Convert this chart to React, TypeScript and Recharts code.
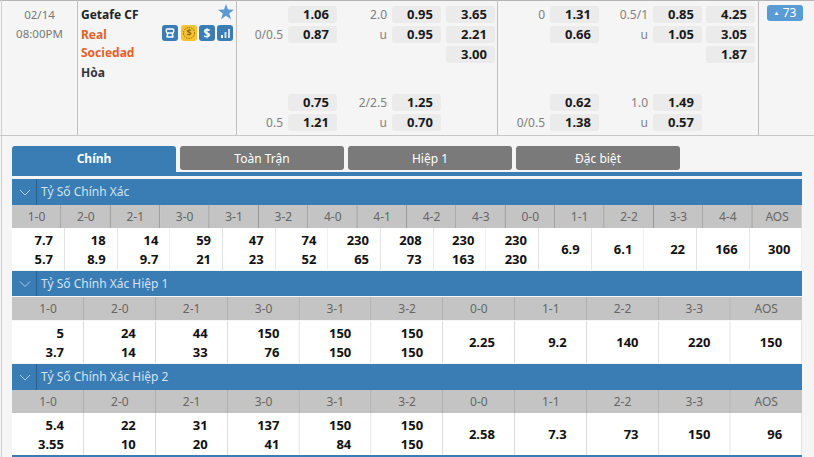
import { BarChart, Bar, XAxis, YAxis, LabelList } from "recharts";

const FONT = "'Noto Sans', sans-serif";
const BLUE = "#3a7db4";

// top panel odds
const ftHdpLines = ["", "0/0.5"];
const ftHdpOdds = [1.06, 0.87];
const ftOuLines = ["2.0", "u"];
const ftOuOdds = [0.95, 0.95];
const ft1x2Odds = [3.65, 2.21, 3.0];
const ftHdpLines2 = ["", "0.5"];
const ftHdpOdds2 = [0.75, 1.21];
const ftOuLines2 = ["2/2.5", "u"];
const ftOuOdds2 = [1.25, 0.7];

const htHdpLines = ["0", ""];
const htHdpOdds = [1.31, 0.66];
const htOuLines = ["0.5/1", "u"];
const htOuOdds = [0.85, 1.05];
const ht1x2Odds = [4.25, 3.05, 1.87];
const htHdpLines2 = ["", "0/0.5"];
const htHdpOdds2 = [0.62, 1.38];
const htOuLines2 = ["1.0", "u"];
const htOuOdds2 = [1.49, 0.57];

// correct score tables
const fullScores = ["1-0", "2-0", "2-1", "3-0", "3-1", "3-2", "4-0", "4-1", "4-2", "4-3", "0-0", "1-1", "2-2", "3-3", "4-4", "AOS"];
const fullUpper = [7.7, 18, 14, 59, 47, 74, 230, 208, 230, 230, 6.9, 6.1, 22, 166, 300];
const fullLower = [5.7, 8.9, 9.7, 21, 23, 52, 65, 73, 163, 230];

const halfScores = ["1-0", "2-0", "2-1", "3-0", "3-1", "3-2", "0-0", "1-1", "2-2", "3-3", "AOS"];
const half1Upper = ["5", "24", "44", "150", "150", "150", "2.25", "9.2", "140", "220", "150"];
const half1Lower = ["3.7", "14", "33", "76", "150", "150"];
const half2Upper = ["5.4", "22", "31", "137", "150", "150", "2.58", "7.3", "73", "150", "96"];
const half2Lower = ["3.55", "10", "20", "41", "84", "150"];

const tabs = ["Chính", "Toàn Trận", "Hiệp 1", "Đặc biệt"];

function Box({ x, y, w, h, style, children }: any) {
  return (
    <div style={{ position: "absolute", left: x, top: y, width: w, height: h, ...style }}>
      {children}
    </div>
  );
}

function Line2({ x, y, color, bold, children, center, w, size = 12 }: any) {
  return (
    <div
      style={{
        position: "absolute",
        left: x,
        top: y,
        width: w,
        textAlign: center ? "center" : "left",
        color,
        fontWeight: bold ? 700 : 400,
        fontSize: size,
        lineHeight: "18px",
        whiteSpace: "nowrap",
      }}
    >
      {children}
    </div>
  );
}

// one column of grey odds chips, handicap line sits left of the chip
function OddsColumn({ x, y, odds, lines }: { x: number; y: number; odds: number[]; lines?: string[] }) {
  const data = odds.map((o, i) => ({
    row: i,
    chip: 1,
    text: o.toFixed(2),
    line: lines ? lines[i] : "",
  }));
  return (
    <Box x={x - 48} y={y} w={97} h={odds.length * 20}>
      <BarChart
        width={97}
        height={odds.length * 20}
        data={data}
        layout="vertical"
        margin={{ top: 0, right: 0, bottom: 0, left: 48 }}
        barSize={17}
      >
        <XAxis type="number" hide domain={[0, 1]} />
        <YAxis type="category" dataKey="row" hide />
        <Bar dataKey="chip" fill="#ebebeb" radius={3} isAnimationActive={false}>
          <LabelList dataKey="text" position="insideRight" offset={8} fill="#1a1a1a" fontSize={13} fontWeight={700} />
          <LabelList dataKey="line" position="left" offset={5} fill="#808080" fontSize={12} />
        </Bar>
      </BarChart>
    </Box>
  );
}

function ScoreStrip({ y, scores }: { y: number; scores: string[] }) {
  const data = scores.map((score) => ({ score, span: 1 }));
  return (
    <Box x={12} y={y} w={790} h={23}>
      <BarChart width={790} height={23} data={data} margin={{ top: 0, right: 0, bottom: 0, left: 0 }} barCategoryGap={0}>
        <XAxis dataKey="score" hide />
        <YAxis hide domain={[0, 1]} />
        <Bar
          dataKey="span"
          isAnimationActive={false}
          shape={(p: any) => (
            <g>
              <rect x={p.x} y={p.y} width={p.width} height={p.height} fill="#c4c4c4" />
              {p.index < scores.length - 1 && (
                <line x1={p.x + p.width} x2={p.x + p.width} y1={p.y} y2={p.y + p.height} stroke="#909090" />
              )}
            </g>
          )}
        >
          <LabelList dataKey="score" position="center" fill="#666" fontSize={12} />
        </Bar>
      </BarChart>
    </Box>
  );
}

function PriceRow({ y, upper, lower, pad }: { y: number; upper: (number | string)[]; lower: (number | string)[]; pad: number }) {
  const data = upper.map((u, i) => ({ cell: i, upper: u, lower: lower[i], span: 1 }));
  return (
    <Box x={12} y={y} w={790} h={42}>
      <BarChart width={790} height={42} data={data} margin={{ top: 0, right: 0, bottom: 0, left: 0 }} barCategoryGap={0}>
        <XAxis dataKey="cell" hide />
        <YAxis hide domain={[0, 1]} />
        <Bar
          dataKey="span"
          isAnimationActive={false}
          shape={(p: any) => {
            const d = data[p.index];
            const tx = p.x + p.width - pad;
            const mid = p.y + p.height / 2;
            const textProps = { x: tx, textAnchor: "end" as const, dominantBaseline: "central" as const, fill: "#111", fontSize: 13, fontWeight: 700 };
            return (
              <g>
                <rect x={p.x} y={p.y} width={p.width} height={p.height} fill="#fff" />
                <line x1={p.x + p.width} x2={p.x + p.width} y1={p.y} y2={p.y + p.height} stroke="#aaa" />
                {d.lower !== undefined ? (
                  <>
                    <text {...textProps} y={mid - 9.5}>{d.upper}</text>
                    <text {...textProps} y={mid + 10}>{d.lower}</text>
                  </>
                ) : (
                  <text {...textProps} y={mid}>{d.upper}</text>
                )}
              </g>
            );
          }}
        />
      </BarChart>
    </Box>
  );
}

function SectionHead({ y, h, title }: { y: number; h: number; title: string }) {
  return (
    <Box x={12} y={y} w={790} h={h} style={{ background: BLUE }}>
      <svg width={26} height={h} style={{ position: "absolute", left: 0, top: 0 }}>
        <polyline points={`8,${h / 2 - 2} 13,${h / 2 + 3} 18,${h / 2 - 2}`} fill="none" stroke="#a9cbe6" strokeWidth={1} />
        <line x1={24.5} x2={24.5} y1={0} y2={h} stroke="#2a5f8c" />
      </svg>
      <div style={{ position: "absolute", left: 29, top: 0, lineHeight: `${h}px`, fontSize: 12, color: "#d3e3f0", whiteSpace: "nowrap" }}>
        {title}
      </div>
    </Box>
  );
}

function Icon({ x, fill, children }: any) {
  return (
    <svg width={16} height={16} style={{ position: "absolute", left: x, top: 25 }}>
      <rect width={16} height={16} rx={3} fill={fill} />
      {children}
    </svg>
  );
}

export default function App() {
  const tabX = [12, 180, 348, 516];
  return (
    <div style={{ position: "absolute", left: 0, top: 0, width: 814, height: 457, overflow: "hidden", background: "#f5f5f5", fontFamily: FONT }}>
      {/* panel borders */}
      <Box x={0} y={0} w={814} h={1} style={{ background: "#b5b5b5" }} />
      <Box x={1} y={0} w={1} h={457} style={{ background: "#d0d0d0" }} />
      <Box x={0} y={135} w={814} h={1} style={{ background: "#c8c8c8" }} />
      {[77, 236, 497, 758].map((x) => (
        <Box key={x} x={x} y={0} w={1} h={135} style={{ background: "#c0c0c0" }} />
      ))}

      {/* match info */}
      <Line2 x={2} y={6} w={75} center size={11.5} color="#777">02/14</Line2>
      <Line2 x={2} y={25} w={75} center size={11.5} color="#777">08:00PM</Line2>
      <Line2 x={81} y={6} bold color="#222">Getafe CF</Line2>
      <Line2 x={81} y={26} bold color="#e2622b">Real</Line2>
      <Line2 x={81} y={44} bold color="#e2622b">Sociedad</Line2>
      <Line2 x={81} y={64} bold color="#333">Hòa</Line2>

      <svg width={16} height={16} style={{ position: "absolute", left: 218, top: 4 }}>
        <polygon points="8,0 10,5.6 16,5.8 11.2,9.4 13,15.2 8,11.8 3,15.2 4.8,9.4 0,5.8 6,5.6" fill="#5b9bd5" />
      </svg>
      <Icon x={162} fill="#3a7db4">
        <path d="M4.5 4h7M5 8h6M4.5 12h7M4.5 4q-1 2 .5 4t-.5 4M11.5 4q1 2-.5 4t.5 4" fill="none" stroke="#fff" strokeWidth={1.3} />
      </Icon>
      <Icon x={181} fill="#f4c430">
        <circle cx={8} cy={8} r={5.5} fill="none" stroke="#8a6a10" strokeWidth={1} strokeDasharray="1.5 1" />
        <text x={8} y={11} textAnchor="middle" fontSize={9} fontWeight={700} fill="#8a6a10">$</text>
      </Icon>
      <Icon x={199} fill="#3a7db4">
        <text x={8} y={12.5} textAnchor="middle" fontSize={12} fontWeight={700} fill="#fff">$</text>
      </Icon>
      <Icon x={217} fill="#3a7db4">
        <rect x={4} y={10} width={2} height={3} fill="#fff" />
        <rect x={7.5} y={7} width={2} height={6} fill="#cfe0ee" />
        <rect x={11} y={4} width={2} height={9} fill="#cfe0ee" />
      </Icon>

      {/* odds */}
      <OddsColumn x={288} y={4} odds={ftHdpOdds} lines={ftHdpLines} />
      <OddsColumn x={391.5} y={4} odds={ftOuOdds} lines={ftOuLines} />
      <OddsColumn x={445.5} y={4} odds={ft1x2Odds} />
      <OddsColumn x={288} y={92} odds={ftHdpOdds2} lines={ftHdpLines2} />
      <OddsColumn x={391.5} y={92} odds={ftOuOdds2} lines={ftOuLines2} />
      <OddsColumn x={549.5} y={4} odds={htHdpOdds} lines={htHdpLines} />
      <OddsColumn x={652.5} y={4} odds={htOuOdds} lines={htOuLines} />
      <OddsColumn x={706} y={4} odds={ht1x2Odds} />
      <OddsColumn x={549.5} y={92} odds={htHdpOdds2} lines={htHdpLines2} />
      <OddsColumn x={652.5} y={92} odds={htOuOdds2} lines={htOuLines2} />

      <Box x={767} y={5} w={36} h={16} style={{ background: "#5b9bd5", borderRadius: 3, color: "#fff", fontSize: 12, lineHeight: "16px", textAlign: "center" }}>
        <span style={{ fontSize: 6, verticalAlign: 2 }}>▲</span> 73
      </Box>

      {/* tabs */}
      <Box x={12} y={172} w={790} h={4} style={{ background: BLUE }} />
      {tabs.map((t, i) => (
        <Box
          key={t}
          x={tabX[i]}
          y={146}
          w={164}
          h={i === 0 ? 27 : 24}
          style={{
            background: i === 0 ? BLUE : "#7a7a7a",
            borderRadius: i === 0 ? "3px 3px 0 0" : 3,
            color: "#fff",
            fontWeight: i === 0 ? 700 : 400,
            fontSize: 12,
            lineHeight: "25px",
            textAlign: "center",
          }}
        >
          {t}
        </Box>
      ))}

      {/* score tables */}
      <SectionHead y={179} h={26} title="Tỷ Số Chính Xác" />
      <ScoreStrip y={205} scores={fullScores} />
      <PriceRow y={228} upper={fullUpper} lower={fullLower} pad={12} />

      <SectionHead y={271} h={25} title="Tỷ Số Chính Xác Hiệp 1" />
      <ScoreStrip y={297} scores={halfScores} />
      <PriceRow y={321} upper={half1Upper} lower={half1Lower} pad={20} />

      <SectionHead y={364} h={26} title="Tỷ Số Chính Xác Hiệp 2" />
      <ScoreStrip y={390} scores={halfScores} />
      <PriceRow y={413} upper={half2Upper} lower={half2Lower} pad={20} />
      <Box x={12} y={455} w={790} h={2} style={{ background: BLUE }} />
    </div>
  );
}
